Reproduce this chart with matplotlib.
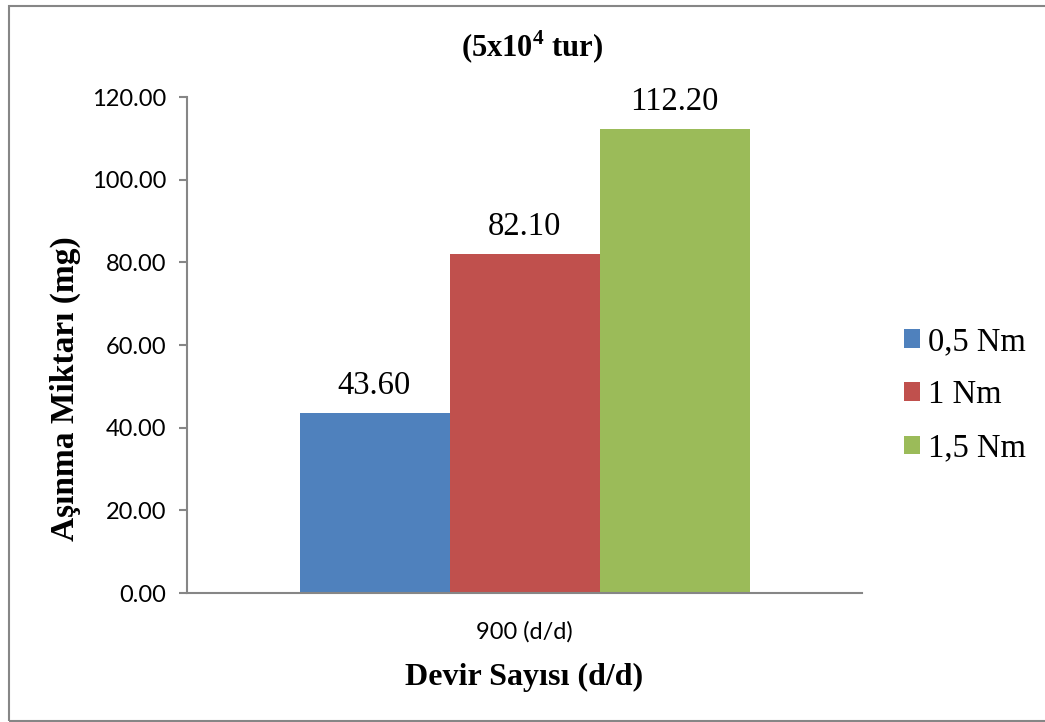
import matplotlib.pyplot as plt
from matplotlib.patches import Rectangle

# wear amount at 900 rpm for each torque
kategori = ["900 (d/d)"]
seriler = ["0,5 Nm", "1 Nm", "1,5 Nm"]
asinma = [43.60, 82.10, 112.20]
renkler = ["#4F81BD", "#C0504D", "#9BBB59"]

serif = ["Liberation Serif", "DejaVu Serif"]
sans = ["Lato", "DejaVu Sans"]
gri = "#868686"

plt.rcParams["mathtext.fontset"] = "custom"
plt.rcParams["mathtext.rm"] = "Liberation Serif"
plt.rcParams["mathtext.bf"] = "Liberation Serif:bold"

fig = plt.figure(figsize=(10.45, 7.22), dpi=100)
ax = fig.add_axes([187/1045, 1-593/722, 675/1045, 496/722])

konum = [-1, 0, 1]
for i in range(len(seriler)):
    ax.bar(konum[i], asinma[i], width=1.0, color=renkler[i], label=seriler[i])
    ax.annotate(f"{asinma[i]:.2f}", (konum[i], asinma[i]), xytext=(0, 8.5),
                textcoords="offset points", ha="center", va="bottom",
                fontsize=23.5, family=serif)

ax.set_xlim(-2.25, 2.25)
ax.set_ylim(0, 120)
ax.set_yticks(range(0, 121, 20))
ax.set_yticklabels([f"{v:.2f}" for v in range(0, 121, 20)], family=sans, fontsize=17)
ax.set_xticks([0])
ax.set_xticklabels(kategori, family=sans, fontsize=17)
ax.tick_params(axis="y", length=6, color=gri, width=1.5, pad=9)
ax.tick_params(axis="x", length=0, pad=20.5)
for s in ["top", "right"]:
    ax.spines[s].set_visible(False)
for s in ["left", "bottom"]:
    ax.spines[s].set_color(gri)
    ax.spines[s].set_linewidth(1.5)

ax.set_ylabel("Aşınma Miktarı (mg)", family=serif, fontsize=24, fontweight="bold",
              labelpad=8, y=0.413)
ax.set_xlabel("Devir Sayısı (d/d)", family=serif, fontsize=23, fontweight="bold", labelpad=14)
fig.text(532/1045, 1-47/722, r"(5x10$^{\mathbf{4}}$ tur)", ha="center", va="center",
         family=serif, fontsize=22, fontweight="bold")

fig.legend(loc="center left", bbox_to_anchor=(904/1045, 1-395/722), frameon=False,
           prop={"family": serif, "size": 23.5}, handlelength=0.5, handleheight=0.5,
           handletextpad=0.25, labelspacing=0.7, borderpad=0, borderaxespad=0)

# outer chart frame, right edge runs off the canvas
fig.patches.append(Rectangle((9/1045, 1/722), 1.1, 715/722, transform=fig.transFigure,
                             fill=False, edgecolor=gri, linewidth=1.5, clip_on=False))

fig.savefig("out.png", dpi=100)
